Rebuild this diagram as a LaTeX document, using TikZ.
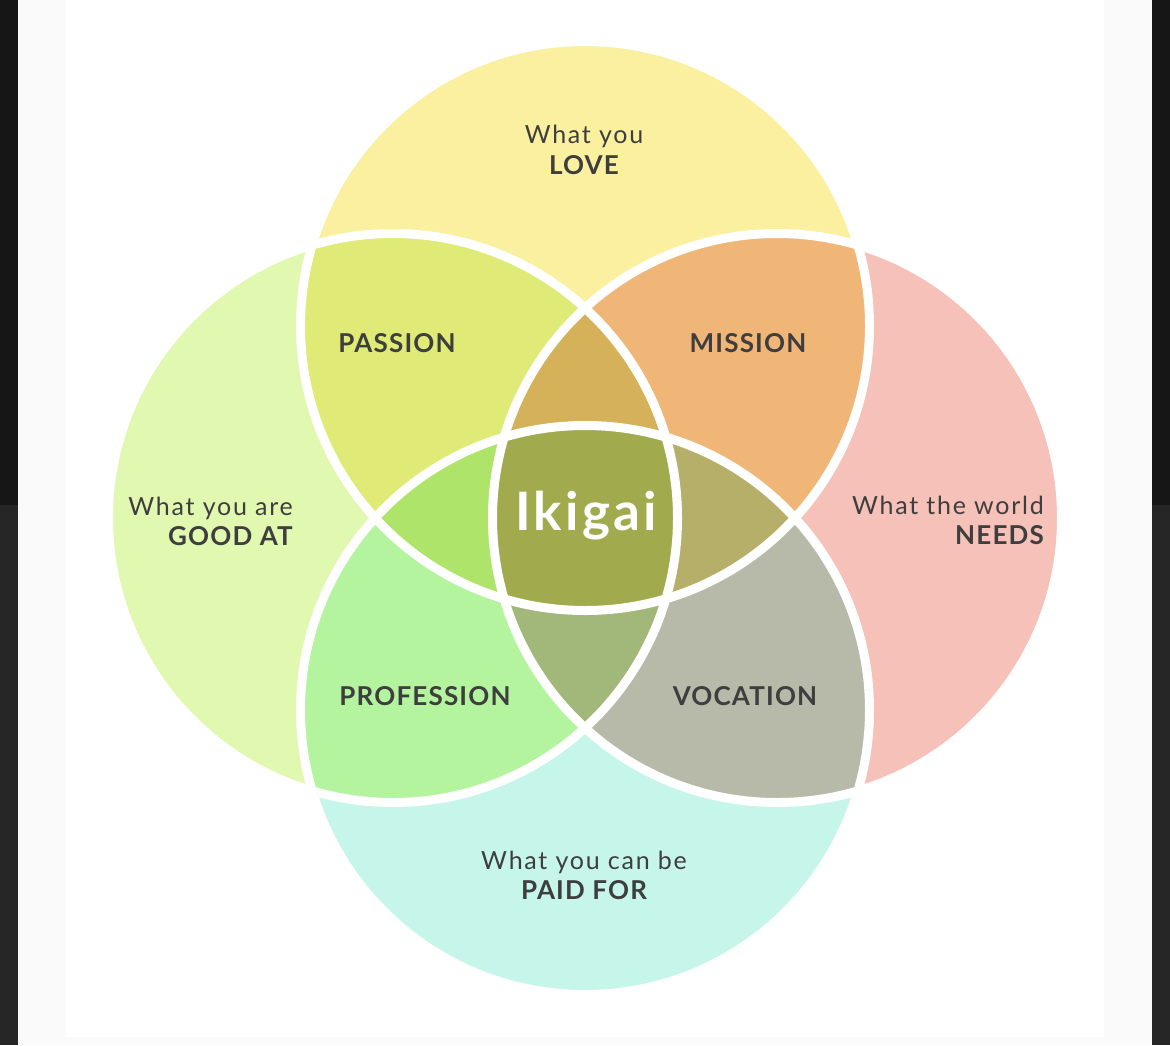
\documentclass[tikz,border=0pt]{standalone}
\usepackage{fontspec}
\setmainfont{Lato}
\newfontfamily\regsp[LetterSpace=7]{Lato}
\newfontfamily\boldsp[LetterSpace=4.5]{Lato Bold}
\newfontfamily\ikisp[LetterSpace=6]{Lato Bold}
\definecolor{txt}{HTML}{3E3E3E}
\definecolor{cT}{HTML}{FAF0A0}
\definecolor{cL}{HTML}{E1F8B1}
\definecolor{cR}{HTML}{F5C1B8}
\definecolor{cB}{HTML}{C5F6E9}
\definecolor{cTL}{HTML}{DFEA77}
\definecolor{cTR}{HTML}{F0B677}
\definecolor{cBL}{HTML}{B4F49F}
\definecolor{cBR}{HTML}{B7BAA8}
\definecolor{cTLR}{HTML}{D5B15A}
\definecolor{cTLB}{HTML}{AEE46A}
\definecolor{cTRB}{HTML}{B5AF6A}
\definecolor{cLRB}{HTML}{A2B77A}
\definecolor{cAll}{HTML}{A2AA4E}
\definecolor{darkA}{HTML}{161616}
\definecolor{darkB}{HTML}{262626}
\definecolor{offw}{HTML}{FAFAFA}
\def\cirT{(585,326) circle[radius=284.5pt]}
\def\cirL{(393,518) circle[radius=284.5pt]}
\def\cirR{(777,518) circle[radius=284.5pt]}
\def\cirB{(585,710) circle[radius=284.5pt]}
\tikzset{
  reg/.style={font=\regsp\fontsize{25}{30}\selectfont, text=txt, anchor=base, inner sep=0pt},
  big/.style={font=\boldsp\fontsize{26}{30}\selectfont, text=txt, anchor=base, inner sep=0pt},
  sep/.style={draw=white, line width=9pt}
}
\begin{document}
\begin{tikzpicture}[x=1pt,y=-1pt]
% background
\fill[offw] (0,0) rectangle (1170,1045);
\fill[white] (66,0) rectangle (1104,1037);
\fill[darkA] (0,0) rectangle (18,505);
\fill[darkB] (0,505) rectangle (18,1045);
\fill[darkA] (1152,0) rectangle (1170,505);
\fill[darkB] (1152,505) rectangle (1170,1045);
\useasboundingbox (0,0) rectangle (1170,1045);
% single circles
\fill[cT] \cirT;
\fill[cL] \cirL;
\fill[cR] \cirR;
\fill[cB] \cirB;
% pairs
\begin{scope}\clip \cirT; \fill[cTL] \cirL; \fill[cTR] \cirR; \end{scope}
\begin{scope}\clip \cirB; \fill[cBL] \cirL; \fill[cBR] \cirR; \end{scope}
% triples
\begin{scope}\clip \cirT; \clip \cirL; \fill[cTLR] \cirR; \fill[cTLB] \cirB; \end{scope}
\begin{scope}\clip \cirB; \clip \cirR; \fill[cTRB] \cirT; \fill[cLRB] \cirL; \end{scope}
% all four
\begin{scope}\clip \cirT; \clip \cirL; \clip \cirR; \fill[cAll] \cirB; \end{scope}
% separating outlines
\draw[sep] \cirT;
\draw[sep] \cirL;
\draw[sep] \cirR;
\draw[sep] \cirB;
% labels
\node[reg] (love1) at (584,143) {What you};
\node[big] (love2) at (584,174) {LOVE};
\node[reg, anchor=base east] (good1) at (293,515) {What you are};
\node[big, anchor=base east] (good2) at (293,545) {GOOD AT};
\node[reg, anchor=base east] (need1) at (1044,514) {What the world};
\node[big, anchor=base east] (need2) at (1044,544) {NEEDS};
\node[reg] (paid1) at (584,869) {What you can be};
\node[big] (paid2) at (584,899) {PAID FOR};
\node[big] (passion) at (397,352) {PASSION};
\node[big] (mission) at (748,352) {MISSION};
\node[big] (profession) at (425,705) {PROFESSION};
\node[big] (vocation) at (745,705) {VOCATION};
\node[font=\ikisp\fontsize{53}{60}\selectfont, text=white, anchor=base, inner sep=0pt] (ikigai) at (586,530) {Ikigai};
\end{tikzpicture}
\end{document}
